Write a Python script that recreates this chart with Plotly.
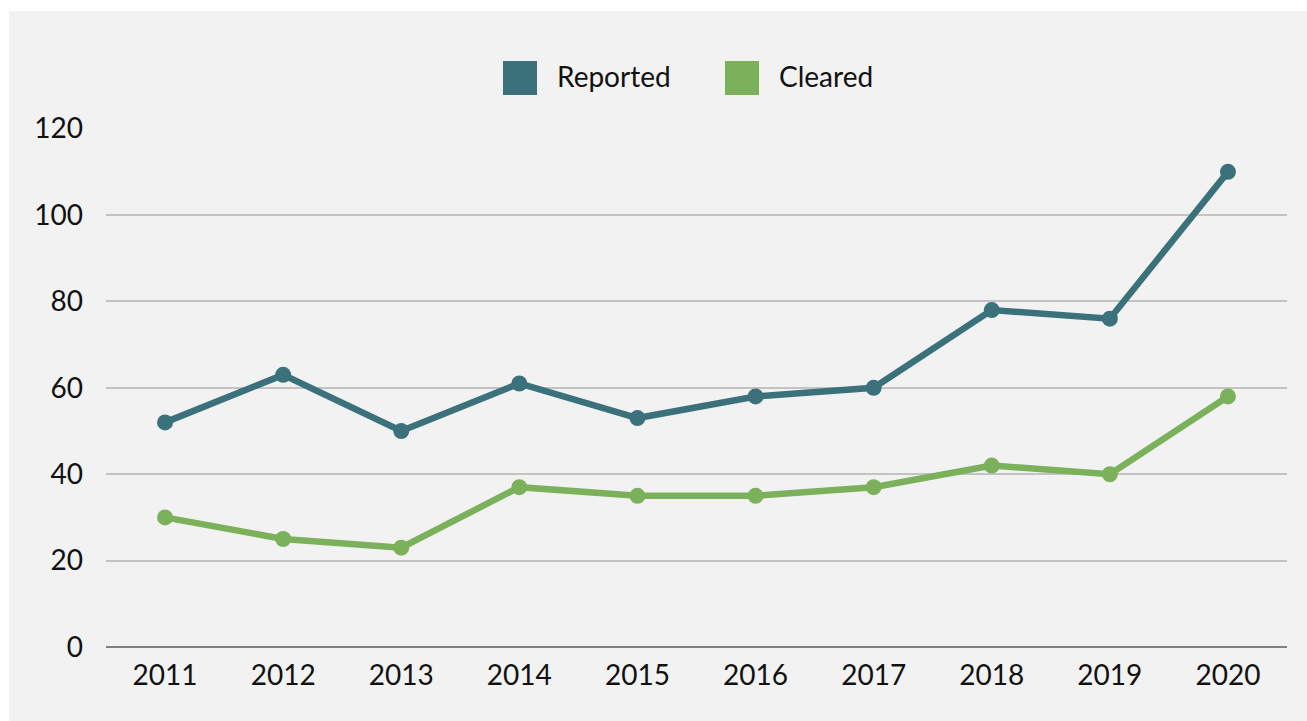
import plotly.graph_objects as go

years = ["2011", "2012", "2013", "2014", "2015", "2016", "2017", "2018", "2019", "2020"]
reported = [52, 63, 50, 61, 53, 58, 60, 78, 76, 110]
cleared = [30, 25, 23, 37, 35, 35, 37, 42, 40, 58]
series_names = ["Reported", "Cleared"]
y_ticks = [0, 20, 40, 60, 80, 100, 120]

TEAL = "#3b717a"
GREEN = "#7cb15b"
FONT = "Lato, 'Open Sans', sans-serif"
TXT = "#111111"
FS = 28

W, H = 1307, 721
L, R, T, B = 106, 20, 128, 74
PW, PH = W - L - R, H - T - B


def px_x(px):
    return (px - L) / PW


def px_y(py):
    return (H - B - py) / PH


fig = go.Figure()
for name, vals, col in [(series_names[0], reported, TEAL), (series_names[1], cleared, GREEN)]:
    fig.add_trace(go.Scatter(
        x=years, y=vals, name=name, mode="lines+markers",
        line=dict(color=col, width=6.5),
        marker=dict(color=col, size=16),
        showlegend=False,
    ))

shapes = [
    # white frame strips (top and left)
    dict(type="rect", xref="paper", yref="paper", x0=px_x(-5), x1=px_x(W + 5),
         y0=px_y(11), y1=px_y(-5), fillcolor="white", line=dict(width=0), layer="below"),
    dict(type="rect", xref="paper", yref="paper", x0=px_x(-5), x1=px_x(9),
         y0=px_y(H + 5), y1=px_y(-5), fillcolor="white", line=dict(width=0), layer="below"),
]
annotations = []
legend_items = [(series_names[0], TEAL, 503), (series_names[1], GREEN, 725)]
for name, col, x0 in legend_items:
    shapes.append(dict(type="rect", xref="paper", yref="paper",
                       x0=px_x(x0), x1=px_x(x0 + 34), y0=px_y(95), y1=px_y(61),
                       fillcolor=col, line=dict(width=0)))
    annotations.append(dict(xref="paper", yref="paper", x=px_x(x0 + 52), y=px_y(76),
                            xanchor="left", yanchor="middle", text=name, showarrow=False,
                            font=dict(family=FONT, size=FS, color=TXT)))

fig.update_layout(
    width=W, height=H,
    margin=dict(l=L, r=R, t=T, b=B, pad=0),
    paper_bgcolor="#f2f2f2",
    plot_bgcolor="#f2f2f2",
    font=dict(family=FONT, size=FS, color=TXT),
    shapes=shapes,
    annotations=annotations,
    xaxis=dict(type="category", range=[-0.5, 9.5], showgrid=False, zeroline=False,
               showline=False, ticks="", ticklabelstandoff=9,
               tickfont=dict(family=FONT, size=FS, color=TXT)),
    yaxis=dict(range=[0, 120.15], tickvals=y_ticks, showgrid=True, gridcolor="#c3c3c3",
               gridwidth=1.5, zeroline=True, zerolinecolor="#808080", zerolinewidth=2,
               showline=False, ticks="", ticklabelstandoff=22,
               tickfont=dict(family=FONT, size=FS, color=TXT)),
)

fig.write_html("out.html", config={"displayModeBar": False},
               post_script="document.body.style.margin='0';")
